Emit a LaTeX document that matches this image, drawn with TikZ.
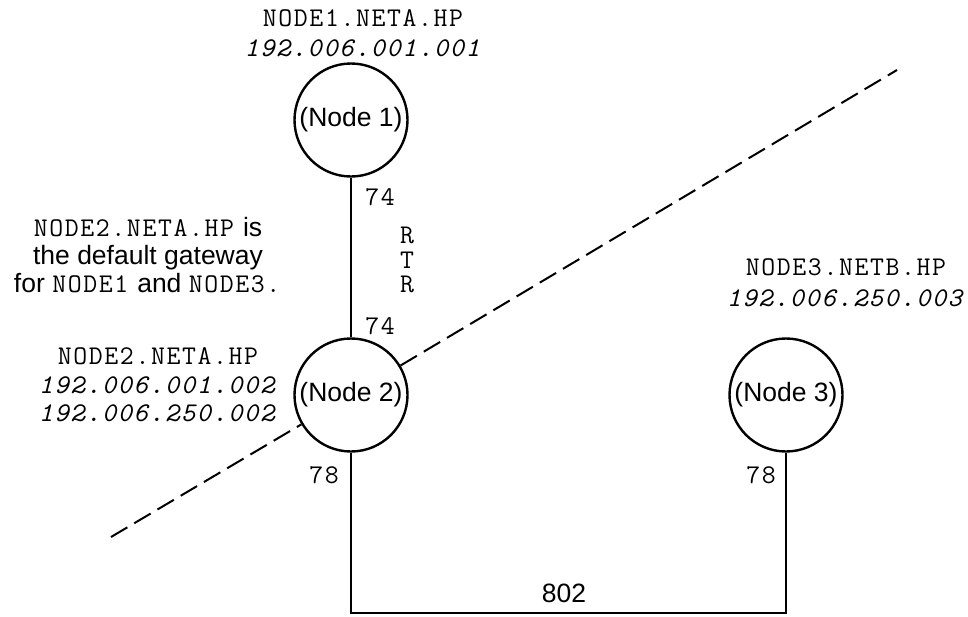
\documentclass[tikz,border=0pt]{standalone}
\usepackage{fontspec}
\setmainfont{Liberation Sans}
\setmonofont{Latin Modern Mono}[LetterSpace=6]
\usepackage{tikz}
\usetikzlibrary{positioning}

\newcommand{\lblsize}{\fontsize{26.5}{28}\selectfont}
\newcommand{\monosize}{\fontsize{27}{28}\selectfont}

\begin{document}
\begin{tikzpicture}[x=1pt, y=-1pt,
    host/.style={circle, draw, line width=2.4pt, minimum size=113pt, inner sep=0pt, font=\lblsize},
    wire/.style={line width=2pt},
    lanwire/.style={line width=2pt, dash pattern=on 19pt off 8pt},
    port/.style={font=\ttfamily\monosize},
    addr/.style={font=\ttfamily\monosize, align=center}]
    \useasboundingbox (0,0) rectangle (968,616);

    % Hosts
    \node[host] (n1) at (351,120) {(Node 1)};
    \node[host] (n2) at (351,395) {(Node 2)};
    \node[host] (n3) at (786,395) {(Node 3)};

    % Names and addresses
    \node[addr] (n1addr) at (363,33) {NODE1.NETA.HP\\[2pt]\textit{192.006.001.001}};
    \node[addr] (n2addr) at (158,385) {NODE2.NETA.HP\\[0.5pt]\textit{192.006.001.002}\\[0.5pt]\textit{192.006.250.002}};
    \node[addr] (n3addr) at (846,283) {NODE3.NETB.HP\\[3pt]\textit{192.006.250.003}};
    \node[font=\lblsize, align=center] (gwnote) at (148,255)
        {{\monosize\texttt{NODE2.NETA.HP}} is\\the default gateway\\for {\monosize\texttt{NODE1}} and {\monosize\texttt{NODE3.}}};

    % Ring link between node 1 and node 2
    \draw[wire] (n1) -- (n2);
    \node[port] (p74a) at (380,197) {74};
    \node[port] (p74b) at (380,326) {74};
    \node[font=\ttfamily\fontsize{27}{24.5}\selectfont, align=center] (rtr) at (407,260) {R\\T\\R};

    % 802 link
    \coordinate (bus) at (564,613);
    \draw[wire] (n2.south) |- (bus) -| (n3.south);
    \node[port] (p78a) at (324,475) {78};
    \node[port] (p78b) at (761,475) {78};
    \node[font=\lblsize] (lan802) at (564,593) {802};

    % Network boundary
    \coordinate (lanA) at (111,537);
    \coordinate (lanB) at (897,70);
    \draw[lanwire] (lanA) -- (n2);
    \draw[lanwire] (n2) -- (lanB);
\end{tikzpicture}
\end{document}
